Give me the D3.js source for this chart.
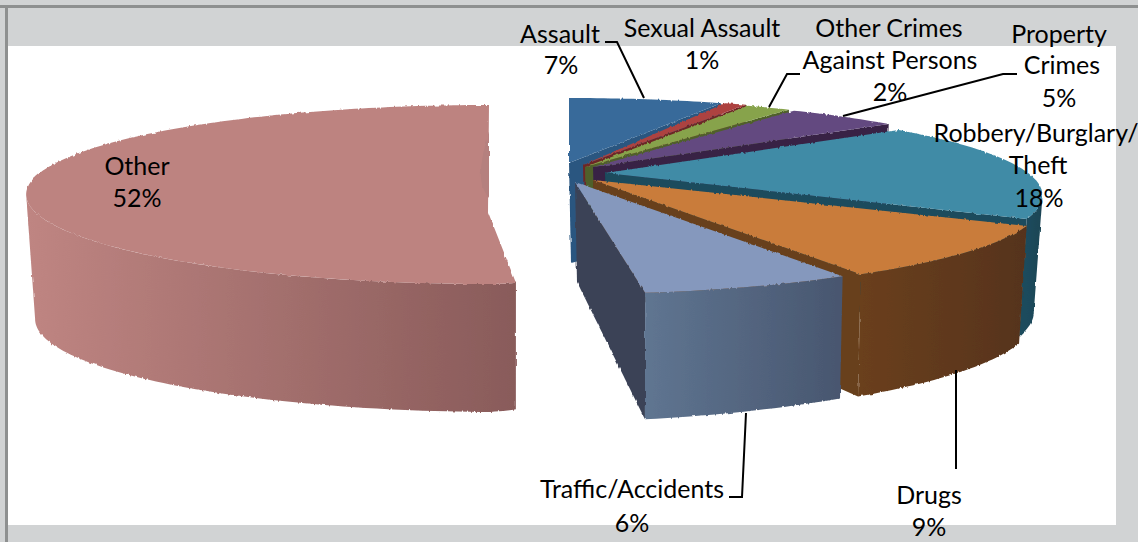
<!DOCTYPE html>
<html>
<head>
<meta charset="utf-8">
<script src="https://cdn.jsdelivr.net/npm/d3@7"></script>
<style>
  html, body { margin: 0; padding: 0; background: #d1d3d4; overflow: hidden; }
  svg { display: block; }
  text { font-family: Lato, "Open Sans", sans-serif; font-size: 25px; fill: #000; text-anchor: middle; }
</style>
</head>
<body>
<script>
const categories = ["Assault", "Sexual Assault", "Other Crimes Against Persons", "Property Crimes",
    "Robbery/Burglary/Theft", "Drugs", "Traffic/Accidents", "Other"];
const shares = [7, 1, 2, 5, 18, 9, 6, 52];

const topColors = ["#376a9a", "#ad4340", "#87a34c", "#644a80", "#3f8ba6", "#c97c3a", "#8598bd", "#bd8380"];
const wallLight = ["#1f4266", "#6d2725", "#50602b", "#382445", "#1c4b5d", "#6a3f1b", "#5f7591", "#bf8582"];
const wallDark = ["#1f4266", "#6d2725", "#50602b", "#382445", "#1a4454", "#56331a", "#48566f", "#895b5a"];
const endWallColors = ["#2c5780", "#6d2725", "#50602b", "#382445", "#1c4b5d", "#68401b", "#3a4257", "#895b5a"];

// where each exploded slice sits: centre of its rim, and the visible tip
const rimCentres = [[569, 165], [573, 165], [575, 166], [580, 167], [590, 173], [590, 180], [572, 182], [489, 172]];
const tips = [[569, 163], [583, 165], [585, 167], [593, 167], [605, 173], [593, 180], [575, 182], [488, 212]];
const radiiX = [438, 438, 438, 438, 438, 438, 438, 448];

const labelLines = [
    [["Assault", 560, 34], ["7%", 561, 65]],
    [["Sexual Assault", 702, 28], ["1%", 702, 60]],
    [["Other Crimes", 889, 28], ["Against Persons", 890, 60], ["2%", 890, 92]],
    [["Property", 1059, 34], ["Crimes", 1062, 65], ["5%", 1059, 98]],
    [["Robbery/Burglary/", 1036, 133], ["Theft", 1038, 165], ["18%", 1039, 198]],
    [["Drugs", 929, 495], ["9%", 929, 527]],
    [["Traffic/Accidents", 632, 489], ["6%", 632, 523]],
    [["Other", 137, 166], ["52%", 137, 198]]
];
const leaders = [
    [[605, 42], [617, 42], [644, 98]],
    [[800, 74], [787, 74], [769, 107]],
    [[1017, 74], [1003, 74], [843, 116]],
    [[956, 370], [956, 469]],
    [[746, 413], [742, 497], [729, 497]]
];
// faint shadow near the back edge of Other
const otherShade = [[489, 132], [481, 160], [480, 185], [489, 198]];

const width = 1138;
const height = 542;
const depthNear = 112; // rim distance below centre at the front
const depthFar = 67;   // rim distance above centre at the back
const persp = (depthNear - depthFar) / (depthNear + depthFar);
const depthMid = 2 * depthNear * depthFar / (depthNear + depthFar);
const tipHeight = 100;
const otherIndex = 7;
// left and right silhouette of the rim under this perspective
const sideAngle = Math.acos(-persp);

let svg = d3.select("body")
    .append("svg")
    .attr("width", width)
    .attr("height", height);

const line = d3.line();

// a point on the rim at pie angle a (0 = up, clockwise)
const rimPoint = (i, a) => {
    let X = Math.sin(a);
    let Y = -Math.cos(a);
    // Other's edge stops short of the centre line in the picture
    if (i === otherIndex && X > 0) { X *= 0.36; }
    let s = 1 / (1 - persp * Y);
    return [rimCentres[i][0] + radiiX[i] * X * s, rimCentres[i][1] + depthMid * Y * s];
};

// same point on the bottom of the wall
const dropPoint = (i, a) => {
    let p = rimPoint(i, a);
    let X = Math.sin(a);
    let h = 128 - (X > 0 ? 12 : 4) * Math.abs(X);
    let squeeze = 1 - 0.02 * Math.abs(X);
    return [rimCentres[i][0] + (p[0] - rimCentres[i][0]) * squeeze, p[1] + h];
};

const arcAngles = (from, to) => {
    let n = Math.max(2, Math.ceil((to - from) / 0.02));
    return d3.range(n + 1).map(k => from + (to - from) * k / n);
};

const main = () => {
    // panel
    svg.append("rect").attr("x", 8).attr("y", 46).attr("width", 1108).attr("height", 479).attr("fill", "#fff");
    svg.append("rect").attr("x", 0).attr("y", 5).attr("width", width).attr("height", 3).attr("fill", "#8e9090");
    svg.append("rect").attr("x", 5).attr("y", 5).attr("width", 3).attr("height", height).attr("fill", "#8e9090");

    let defs = svg.append("defs");

    // the pie edges are ragged in the source picture
    let rough = defs.append("filter")
        .attr("id", "rough")
        .attr("x", "-2%").attr("y", "-2%").attr("width", "104%").attr("height", "104%");
    rough.append("feTurbulence")
        .attr("type", "fractalNoise")
        .attr("baseFrequency", "0.45 0.1")
        .attr("numOctaves", 1)
        .attr("seed", 3)
        .attr("result", "noise");
    rough.append("feDisplacementMap")
        .attr("in", "SourceGraphic")
        .attr("in2", "noise")
        .attr("scale", 3)
        .attr("xChannelSelector", "R")
        .attr("yChannelSelector", "G");

    let slices = d3.pie().sort(null).value(d => d)(shares);

    let group = svg.append("g").attr("filter", "url(#rough)");
    slices.forEach((d, i) => {
        let angles = arcAngles(d.startAngle, d.endAngle);
        let rim = angles.map(a => rimPoint(i, a));

        // radial wall under the clockwise edge
        if (Math.sin(d.endAngle) > 0.01) {
            let wall = [tips[i], rimPoint(i, d.endAngle), dropPoint(i, d.endAngle),
                [tips[i][0] + 2, tips[i][1] + tipHeight]];
            group.append("path")
                .attr("d", line(wall) + "Z")
                .attr("fill", endWallColors[i]);
        }

        // outer wall, only the part that faces the viewer
        let from = Math.max(d.startAngle, sideAngle);
        let to = Math.min(d.endAngle, Math.PI * 2 - sideAngle);
        if (to > from) {
            let front = arcAngles(from, to);
            let upper = front.map(a => rimPoint(i, a));
            let lower = front.map(a => dropPoint(i, a)).reverse();
            let xs = d3.extent(upper, p => p[0]);
            let id = "wall" + i;
            let grad = defs.append("linearGradient")
                .attr("id", id)
                .attr("gradientUnits", "userSpaceOnUse")
                .attr("x1", xs[0]).attr("x2", xs[1]).attr("y1", 0).attr("y2", 0);
            grad.append("stop").attr("offset", 0).attr("stop-color", wallLight[i]);
            grad.append("stop").attr("offset", 1).attr("stop-color", wallDark[i]);
            group.append("path")
                .attr("d", line(upper.concat(lower)) + "Z")
                .attr("fill", "url(#" + id + ")");
        }

        // top face
        group.append("path")
            .attr("d", line([tips[i]].concat(rim)) + "Z")
            .attr("fill", topColors[i]);
    });

    group.append("path")
        .attr("d", d3.line().curve(d3.curveBasis)(otherShade) + "Z")
        .attr("fill", "#b5807e");

    leaders.forEach(pts => {
        svg.append("path")
            .attr("d", line(pts))
            .attr("fill", "none")
            .attr("stroke", "#000")
            .attr("stroke-width", 2);
    });

    labelLines.forEach(lines => {
        lines.forEach(l => {
            svg.append("text")
                .attr("x", l[1])
                .attr("y", l[2])
                .attr("dy", "0.35em")
                .text(l[0]);
        });
    });
};

window.addEventListener("load", main);
</script>
</body>
</html>
